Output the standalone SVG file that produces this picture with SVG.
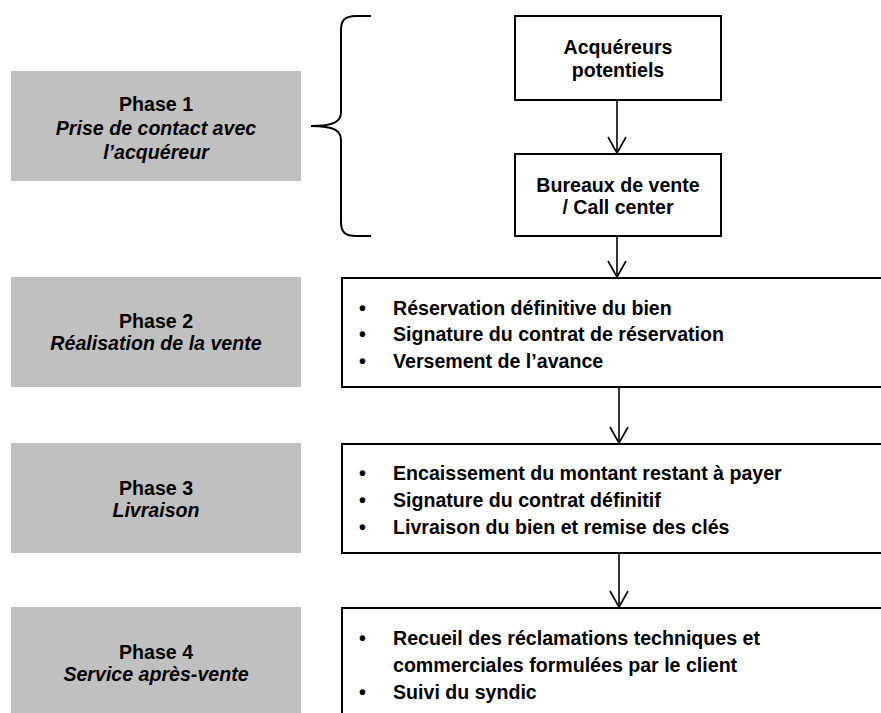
<svg xmlns="http://www.w3.org/2000/svg" width="881" height="713" viewBox="0 0 881 713">
<style>
.gray{fill:#c0c0c0;stroke:none}
.box{fill:#fff;stroke:#000;stroke-width:2}
.t{font-family:"Liberation Sans",Arial,sans-serif;font-weight:bold;fill:#000}
.ph{font-size:19.6px;text-anchor:middle}
.it{font-style:italic}
.nd{font-size:19.6px;text-anchor:middle}
.bl{font-size:19.6px}
.conn{stroke:#000;stroke-width:1.6;fill:none}
</style>
<defs>
<marker id="arr" viewBox="0 0 20 20" refX="18" refY="10" markerWidth="20" markerHeight="20" markerUnits="userSpaceOnUse" orient="auto">
<path d="M2 1 L18 10 L2 19" fill="none" stroke="#000" stroke-width="1.6"/>
</marker>
</defs>
<rect width="881" height="713" fill="#fff"/>
<g id="phase1">
<rect class="gray" x="11" y="71" width="290" height="110"/>
<text class="t ph" x="156" y="111">Phase 1</text>
<text class="t ph it" x="156" y="135">Prise de contact avec</text>
<text class="t ph it" x="156" y="159">l’acquéreur</text>
</g>
<g id="brace">
<path d="M371 16 L356 16 C345 16 341 20 341 30 L341 112 C341 121 335 126 311 126 C335 126 341 131 341 140 L341 222 C341 232 345 236 356 236 L371 236" fill="none" stroke="#000" stroke-width="2"/>
</g>
<g id="acquereurs">
<rect class="box" x="515" y="16" width="206" height="84"/>
<text class="t nd" x="618" y="54">Acquéreurs</text>
<text class="t nd" x="618" y="77">potentiels</text>
</g>
<g id="bureaux">
<rect class="box" x="515" y="154" width="206" height="82"/>
<text class="t nd" x="618" y="192">Bureaux de vente</text>
<text class="t nd" x="618" y="214">/ Call center</text>
</g>
<g id="phase2">
<rect class="gray" x="11" y="277" width="290" height="110"/>
<text class="t ph" x="156" y="328">Phase 2</text>
<text class="t ph it" x="156" y="350">Réalisation de la vente</text>
</g>
<g id="vente">
<rect class="box" x="342" y="278" width="560" height="109"/>
<text class="t bl" x="359" y="315">•</text>
<text class="t bl" x="393" y="315">Réservation définitive du bien</text>
<text class="t bl" x="359" y="341">•</text>
<text class="t bl" x="393" y="341">Signature du contrat de réservation</text>
<text class="t bl" x="359" y="368">•</text>
<text class="t bl" x="393" y="368">Versement de l’avance</text>
</g>
<g id="phase3">
<rect class="gray" x="11" y="443" width="290" height="110"/>
<text class="t ph" x="156" y="495">Phase 3</text>
<text class="t ph it" x="156" y="517">Livraison</text>
</g>
<g id="livraison">
<rect class="box" x="342" y="444" width="560" height="109"/>
<text class="t bl" x="359" y="480">•</text>
<text class="t bl" x="393" y="480">Encaissement du montant restant à payer</text>
<text class="t bl" x="359" y="507">•</text>
<text class="t bl" x="393" y="507">Signature du contrat définitif</text>
<text class="t bl" x="359" y="534">•</text>
<text class="t bl" x="393" y="534">Livraison du bien et remise des clés</text>
</g>
<g id="phase4">
<rect class="gray" x="11" y="607" width="290" height="115"/>
<text class="t ph" x="156" y="659">Phase 4</text>
<text class="t ph it" x="156" y="681">Service après-vente</text>
</g>
<g id="sav">
<rect class="box" x="342" y="608" width="560" height="120"/>
<text class="t bl" x="359" y="645">•</text>
<text class="t bl" x="393" y="645">Recueil des réclamations techniques et</text>
<text class="t bl" x="393" y="672">commerciales formulées par le client</text>
<text class="t bl" x="359" y="699">•</text>
<text class="t bl" x="393" y="699">Suivi du syndic</text>
</g>
<g id="connectors">
<line class="conn" x1="617" y1="100" x2="617" y2="153" marker-end="url(#arr)"/>
<line class="conn" x1="617" y1="236" x2="617" y2="277" marker-end="url(#arr)"/>
<line class="conn" x1="619" y1="387" x2="619" y2="443" marker-end="url(#arr)"/>
<line class="conn" x1="619" y1="553" x2="619" y2="607" marker-end="url(#arr)"/>
</g>
</svg>
